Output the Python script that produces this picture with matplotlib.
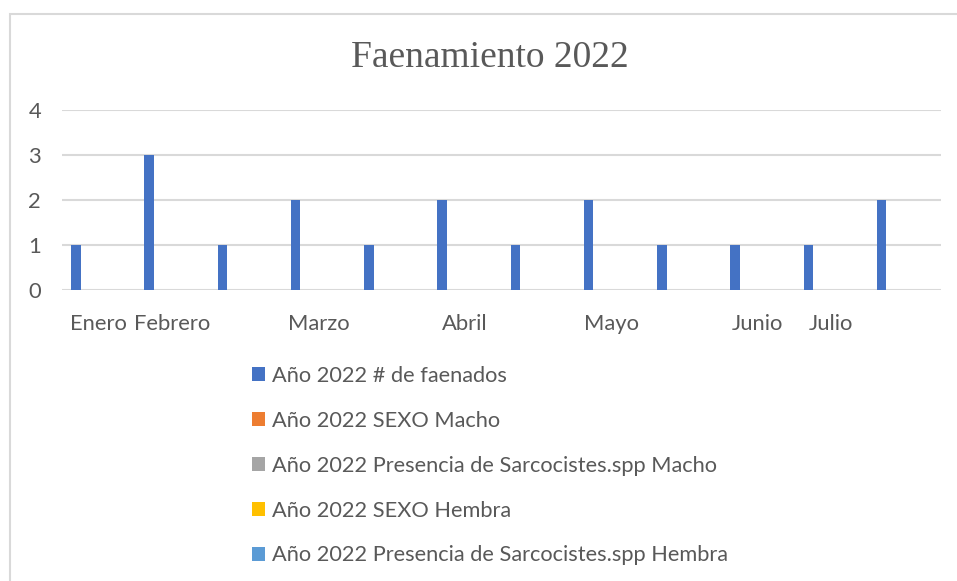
import matplotlib
matplotlib.use("Agg")
import matplotlib.pyplot as plt
import numpy as np

categories = ["Enero", "Febrero", "", "Marzo", "", "Abril", "", "Mayo", "", "Junio", "Julio", ""]
faenados = [1, 3, 1, 2, 1, 2, 1, 2, 1, 1, 1, 2]
sexo_macho = [0] * 12
presencia_macho = [0] * 12
sexo_hembra = [0] * 12
presencia_hembra = [0] * 12

series_names = [
    "Año 2022 # de faenados",
    "Año 2022 SEXO Macho",
    "Año 2022 Presencia de Sarcocistes.spp Macho",
    "Año 2022 SEXO Hembra",
    "Año 2022 Presencia de Sarcocistes.spp Hembra",
]
series_values = [faenados, sexo_macho, presencia_macho, sexo_hembra, presencia_hembra]
colors = ["#4472C4", "#ED7D31", "#A5A5A5", "#FFC000", "#5B9BD5"]

plt.rcParams['font.family'] = ['Lato', 'DejaVu Sans']
text_color = "#595959"

W, H = 957, 581
fig = plt.figure(figsize=(W / 100, H / 100), dpi=100)

# chart border
fig.patches.append(plt.Rectangle((9.5 / W, -0.1), 1.2, 1 - 13.5 / H + 0.1,
                                 transform=fig.transFigure, fill=False,
                                 edgecolor="#D9D9D9", linewidth=1.5))

ax = fig.add_axes([62 / W, 1 - 290 / H, (941 - 62) / W, 180 / H])
x = np.arange(len(categories))
slot = 0.155
bw = 0.13
handles = []
for k, (name, vals, c) in enumerate(zip(series_names, series_values, colors)):
    b = ax.bar(x - 0.31 + k * slot, vals, width=bw, color=c, label=name, zorder=3)
    handles.append(b)

ax.set_xlim(-0.5, len(categories) - 0.5)
ax.set_ylim(0, 4)
ax.set_yticks([0, 1, 2, 3, 4])
ax.set_xticks(x)
ax.set_xticklabels(categories)
ax.tick_params(axis='both', length=0, labelsize=15.8, colors=text_color)
ax.tick_params(axis='x', pad=17)
ax.tick_params(axis='y', pad=15)
ax.yaxis.grid(True, color="#D9D9D9", linewidth=1.5, zorder=0)
for s in ax.spines.values():
    s.set_visible(False)

fig.text(490 / W, 1 - 58 / H, "Faenamiento 2022", ha='center', va='center',
         fontsize=27, color=text_color, family='Liberation Serif')

fig.legend(handles=handles, labels=series_names, loc='upper left',
           bbox_to_anchor=(252 / W, 1 - 366 / H), frameon=False,
           fontsize=15.7, labelcolor=text_color, handlelength=0.6,
           handleheight=0.6, handletextpad=0.32, labelspacing=1.14,
           borderpad=0, borderaxespad=0)

fig.savefig("out.png", dpi=100)
